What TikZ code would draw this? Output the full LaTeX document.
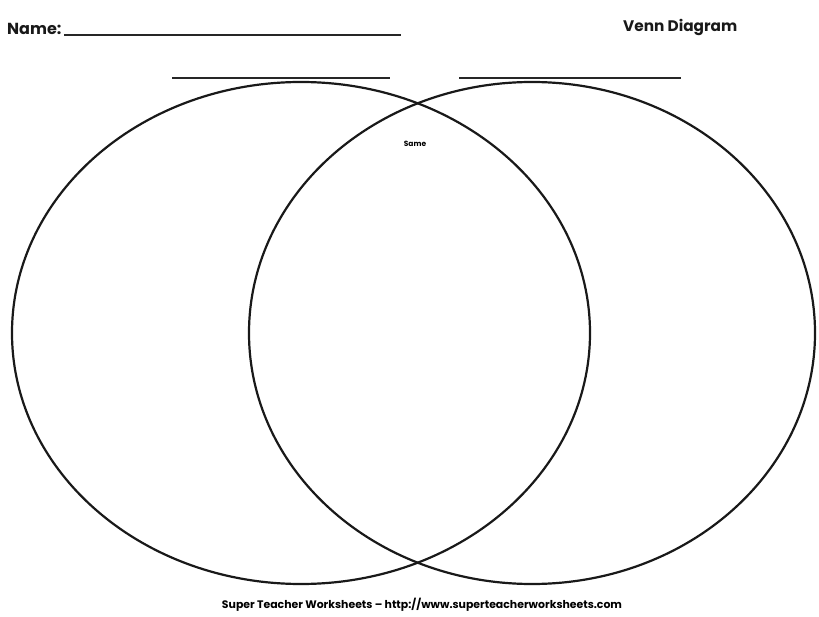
\documentclass[tikz,border=0pt]{standalone}
\usepackage{fontspec}
\setmainfont{Poppins}
\begin{document}
\begin{tikzpicture}[x=1pt,y=-1pt,
  circ/.style={line width=2.2pt,draw=black!90},
  rule/.style={line width=1.6pt,draw=black!85},
  lbl/.style={inner sep=0pt,anchor=west,text=black!90}]
\useasboundingbox (0,0) rectangle (819,617);
\node[lbl,font=\fontsize{16}{18}\selectfont\bfseries] (name) at (7,29) {Name:};
\coordinate (n1) at (64,35);
\coordinate (n2) at (401,35);
\draw[rule] (n1) -- (n2);
\node[lbl,font=\fontsize{15.3}{17}\selectfont\bfseries] (title) at (623,27) {Venn Diagram};
\coordinate (l1) at (172,78);
\coordinate (l2) at (390,78);
\draw[rule] (l1) -- (l2);
\coordinate (r1) at (459,78);
\coordinate (r2) at (681,78);
\draw[rule] (r1) -- (r2);
\draw[circ] (301,333) ellipse [x radius=289, y radius=251];
\draw[circ] (532,333) ellipse [x radius=283, y radius=251];
\node[inner sep=0pt,font=\fontsize{7.5}{8}\selectfont\bfseries] (same) at (415,144) {Same};
\node[inner sep=0pt,font=\fontsize{10.9}{12}\selectfont\bfseries] (foot) at (422,605) {Super Teacher Worksheets -- http://www.superteacherworksheets.com};
\end{tikzpicture}
\end{document}
